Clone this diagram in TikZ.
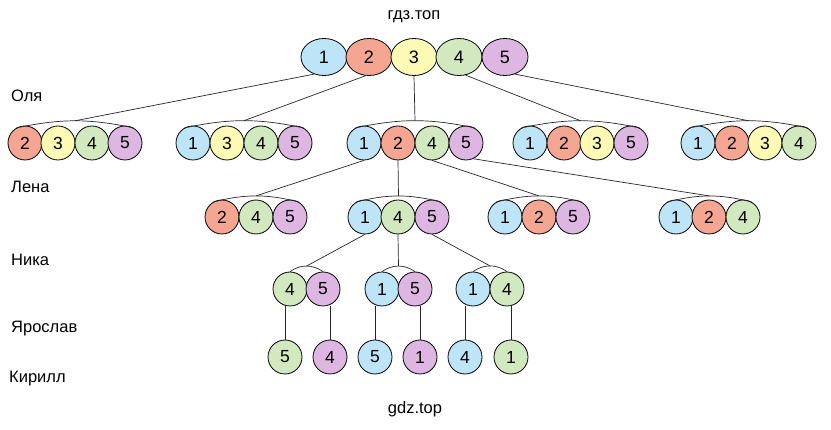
\documentclass[tikz,border=0pt]{standalone}
\usepackage{fontspec}
\setmainfont{Liberation Sans}
\usetikzlibrary{shapes.geometric}
\definecolor{pale1}{RGB}{190,229,247}
\definecolor{pale2}{RGB}{244,166,146}
\definecolor{pale3}{RGB}{252,250,180}
\definecolor{pale4}{RGB}{210,233,192}
\definecolor{pale5}{RGB}{221,183,226}

\begin{document}
\begin{tikzpicture}[x=1pt,y=1pt,
  ball/.style={circle,draw,line width=0.8pt,minimum size=34pt,inner sep=0pt,font=\fontsize{17.5}{17.5}\selectfont},
  oval/.style={ellipse,draw,line width=0.8pt,minimum width=46pt,minimum height=37pt,inner sep=0pt,font=\fontsize{18}{18}\selectfont},
  link/.style={draw=black!85,line width=0.7pt},
  who/.style={anchor=base west,inner sep=0pt,font=\fontsize{16.5}{18}\selectfont}]
\useasboundingbox (0,0) rectangle (831,-430);

\node[font=\fontsize{16.5}{18}\selectfont,anchor=base] (top) at (414,-20) {гдз.топ};
\node[font=\fontsize{16.5}{18}\selectfont,anchor=base] (bot) at (415,-414) {gdz.top};

\node[who] (olya) at (11,-102) {Оля};
\node[who] (lena) at (11,-193) {Лена};
\node[who] (nika) at (11,-266) {Ника};
\node[who] (yar) at (11,-333) {Ярослав};
\node[who] (kir) at (9,-383) {Кирилл};

% five numbers
\node[oval,fill=pale1] (t1) at (324,-57) {1};
\node[oval,fill=pale2] (t2) at (369,-57) {2};
\node[oval,fill=pale3] (t3) at (414,-57) {3};
\node[oval,fill=pale4] (t4) at (459,-57) {4};
\node[oval,fill=pale5] (t5) at (505,-57) {5};

% Оля
\node[ball,fill=pale2] (a1-2) at (25,-143) {2};
\node[ball,fill=pale3] (a1-3) at (58,-143) {3};
\node[ball,fill=pale4] (a1-4) at (92,-143) {4};
\node[ball,fill=pale5] (a1-5) at (125,-143) {5};
\node[ball,fill=pale1] (a2-1) at (193,-143) {1};
\node[ball,fill=pale3] (a2-3) at (227,-143) {3};
\node[ball,fill=pale4] (a2-4) at (261,-143) {4};
\node[ball,fill=pale5] (a2-5) at (295,-143) {5};
\node[ball,fill=pale1] (a3-1) at (364,-143) {1};
\node[ball,fill=pale2] (a3-2) at (398,-143) {2};
\node[ball,fill=pale4] (a3-4) at (432,-143) {4};
\node[ball,fill=pale5] (a3-5) at (466,-143) {5};
\node[ball,fill=pale1] (a4-1) at (530,-143) {1};
\node[ball,fill=pale2] (a4-2) at (564,-143) {2};
\node[ball,fill=pale3] (a4-3) at (597,-143) {3};
\node[ball,fill=pale5] (a4-5) at (631,-143) {5};
\node[ball,fill=pale1] (a5-1) at (698,-143) {1};
\node[ball,fill=pale2] (a5-2) at (732,-143) {2};
\node[ball,fill=pale3] (a5-3) at (765,-143) {3};
\node[ball,fill=pale4] (a5-4) at (799,-143) {4};

\draw[link] (a1-2.120) to[bend left=12] coordinate[pos=0.5] (a1m) (a1-5.60);
\draw[link] (a2-1.120) to[bend left=12] coordinate[pos=0.5] (a2m) (a2-5.60);
\draw[link] (a3-1.120) to[bend left=12] coordinate[pos=0.5] (a3m) (a3-5.60);
\draw[link] (a4-1.120) to[bend left=12] coordinate[pos=0.5] (a4m) (a4-5.60);
\draw[link] (a5-1.120) to[bend left=12] coordinate[pos=0.5] (a5m) (a5-4.60);
\draw[link] (t1.240) -- (a1m);
\draw[link] (t2.260) -- (a2m);
\draw[link] (t3.south) -- (a3m);
\draw[link] (t4.290) -- (a4m);
\draw[link] (t5.300) -- (a5m);

% Лена
\node[ball,fill=pale2] (b1-2) at (222,-217) {2};
\node[ball,fill=pale4] (b1-4) at (256,-217) {4};
\node[ball,fill=pale5] (b1-5) at (290,-217) {5};
\node[ball,fill=pale1] (b2-1) at (365,-217) {1};
\node[ball,fill=pale4] (b2-4) at (398,-217) {4};
\node[ball,fill=pale5] (b2-5) at (432,-217) {5};
\node[ball,fill=pale1] (b3-1) at (505,-217) {1};
\node[ball,fill=pale2] (b3-2) at (539,-217) {2};
\node[ball,fill=pale5] (b3-5) at (573,-217) {5};
\node[ball,fill=pale1] (b4-1) at (676,-217) {1};
\node[ball,fill=pale2] (b4-2) at (709,-217) {2};
\node[ball,fill=pale4] (b4-4) at (743,-217) {4};

\draw[link] (b1-2.120) to[bend left=14] coordinate[pos=0.5] (b1m) (b1-5.60);
\draw[link] (b2-1.120) to[bend left=14] coordinate[pos=0.5] (b2m) (b2-5.60);
\draw[link] (b3-1.120) to[bend left=14] coordinate[pos=0.5] (b3m) (b3-5.60);
\draw[link] (b4-1.120) to[bend left=14] coordinate[pos=0.5] (b4m) (b4-4.60);
\draw[link] (a3-1.south) -- (b1m);
\draw[link] (a3-2.south) -- (b2m);
\draw[link] (a3-4.south) -- (b3m);
\draw[link] (a3-5.295) -- (b4m);

% Ника
\node[ball,fill=pale4] (c1-4) at (290,-289) {4};
\node[ball,fill=pale5] (c1-5) at (323,-289) {5};
\node[ball,fill=pale1] (c2-1) at (382,-289) {1};
\node[ball,fill=pale5] (c2-5) at (415,-289) {5};
\node[ball,fill=pale1] (c3-1) at (473,-289) {1};
\node[ball,fill=pale4] (c3-4) at (507,-289) {4};

\draw[link] (c1-4.north) to[bend left=35] coordinate[pos=0.5] (c1m) (c1-5.north);
\draw[link] (c2-1.north) to[bend left=35] coordinate[pos=0.5] (c2m) (c2-5.north);
\draw[link] (c3-1.north) to[bend left=35] coordinate[pos=0.5] (c3m) (c3-4.north);
\draw[link] (b2-1.south) -- (c1m);
\draw[link] (b2-4.south) -- (c2m);
\draw[link] (b2-5.south) -- (c3m);

% Ярослав, Кирилл
\node[ball,fill=pale4] (d1) at (285,-357) {5};
\node[ball,fill=pale5] (d2) at (330,-357) {4};
\node[ball,fill=pale1] (d3) at (375,-357) {5};
\node[ball,fill=pale5] (d4) at (420,-357) {1};
\node[ball,fill=pale1] (d5) at (465,-357) {4};
\node[ball,fill=pale4] (d6) at (511,-357) {1};

\draw[link] (c1-4.south -| d1) -- (d1);
\draw[link] (c1-5.south -| d2) -- (d2);
\draw[link] (c2-1.south -| d3) -- (d3);
\draw[link] (c2-5.south -| d4) -- (d4);
\draw[link] (c3-1.south -| d5) -- (d5);
\draw[link] (c3-4.south -| d6) -- (d6);

\end{tikzpicture}
\end{document}
